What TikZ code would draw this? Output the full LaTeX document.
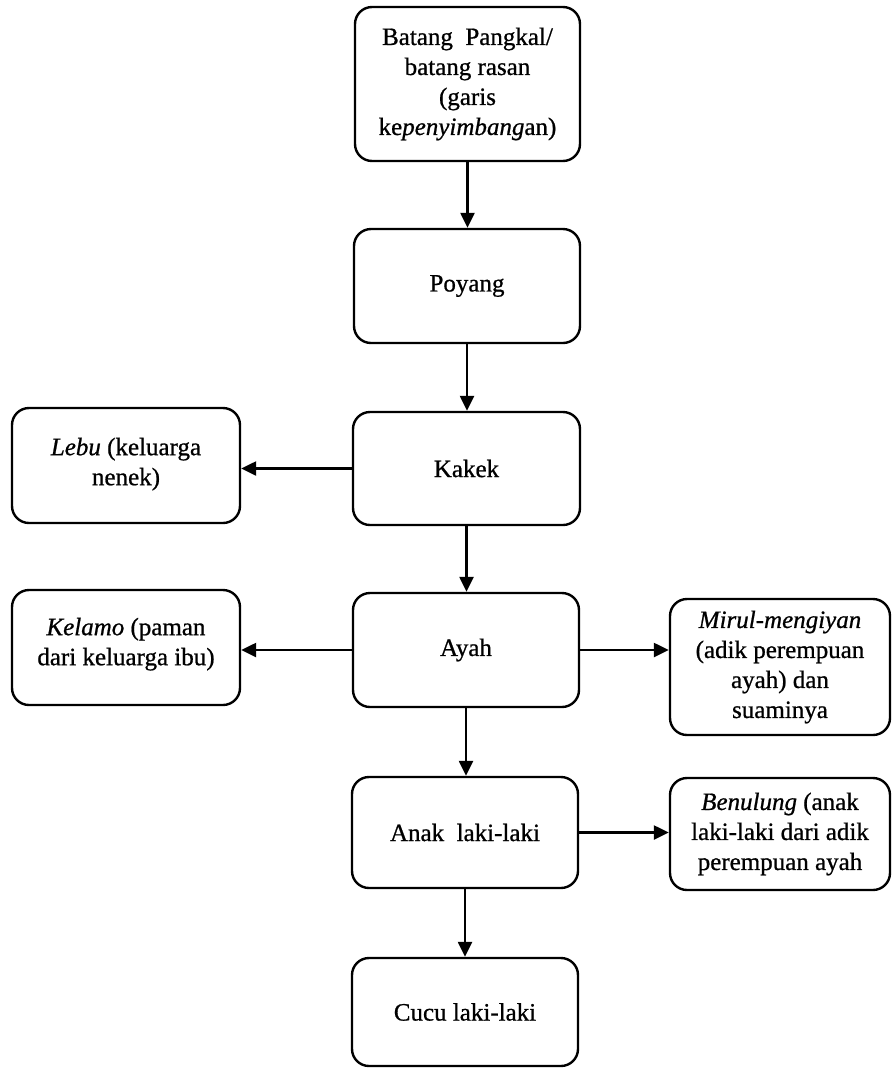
\documentclass[tikz,border=0pt]{standalone}
\usepackage{fontspec}
\setmainfont{Liberation Serif}[
  BoldFont=Liberation Serif, BoldItalicFont=Liberation Serif Italic,
  BoldFeatures={FakeBold=0.8}, BoldItalicFeatures={FakeBold=0.8}]
\usetikzlibrary{arrows.meta}
\begin{document}
\begin{tikzpicture}[x=1pt,y=-1pt,
  box/.style={draw=black, line width=2.4pt, rounded corners=17pt, align=center,
    inner sep=0pt, font=\fontsize{25}{30}\selectfont\bfseries},
  conn/.style={line width=2.4pt, -{Triangle[length=15pt,width=14pt]}}]
\useasboundingbox (0,0) rectangle (893,1069);
\node[box, minimum width=225, minimum height=154] (top) at (467.5,84)
  {Batang\ \ Pangkal/\\batang rasan\\(garis\\ke\textit{penyimbang}an)};
\node[box, minimum width=226, minimum height=114] (poyang) at (467,286) {Poyang};
\node[box, minimum width=227, minimum height=113] (kakek) at (466.5,468.5) {Kakek};
\node[box, minimum width=226, minimum height=114] (ayah) at (466,650) {Ayah};
\node[box, minimum width=226, minimum height=111] (anak) at (465,832.5) {Anak\ \ laki-laki};
\node[box, minimum width=226, minimum height=108] (cucu) at (465,1012) {Cucu laki-laki};
\node[box, minimum width=228, minimum height=115] (lebu) at (126,465.5)
  {\textit{Lebu} (keluarga\\nenek)\\[-22pt]\mbox{}};
\node[box, minimum width=228, minimum height=115] (kelamo) at (126,647.5)
  {\textit{Kelamo} (paman\\dari keluarga ibu)\\[-18pt]\mbox{}};
\node[box, minimum width=220, minimum height=136] (mirul) at (780,667)
  {\textit{Mirul-mengiyan}\\(adik perempuan\\ayah) dan\\suaminya};
\node[box, minimum width=220, minimum height=112] (benulung) at (780,834)
  {\textit{Benulung} (anak\\laki-laki dari adik\\perempuan ayah};
\draw[conn] (top.south) -- (top.south |- poyang.north);
\draw[conn] (poyang.south) -- (poyang.south |- kakek.north);
\draw[conn] (kakek.south) -- (kakek.south |- ayah.north);
\draw[conn] (ayah.south) -- (ayah.south |- anak.north);
\draw[conn] (anak.south) -- (anak.south |- cucu.north);
\draw[conn] (kakek.west) -- (kakek.west -| lebu.east);
\draw[conn] (ayah.west) -- (ayah.west -| kelamo.east);
\draw[conn] (ayah.east) -- (ayah.east -| mirul.west);
\draw[conn] (anak.east) -- (anak.east -| benulung.west);
\end{tikzpicture}
\end{document}
